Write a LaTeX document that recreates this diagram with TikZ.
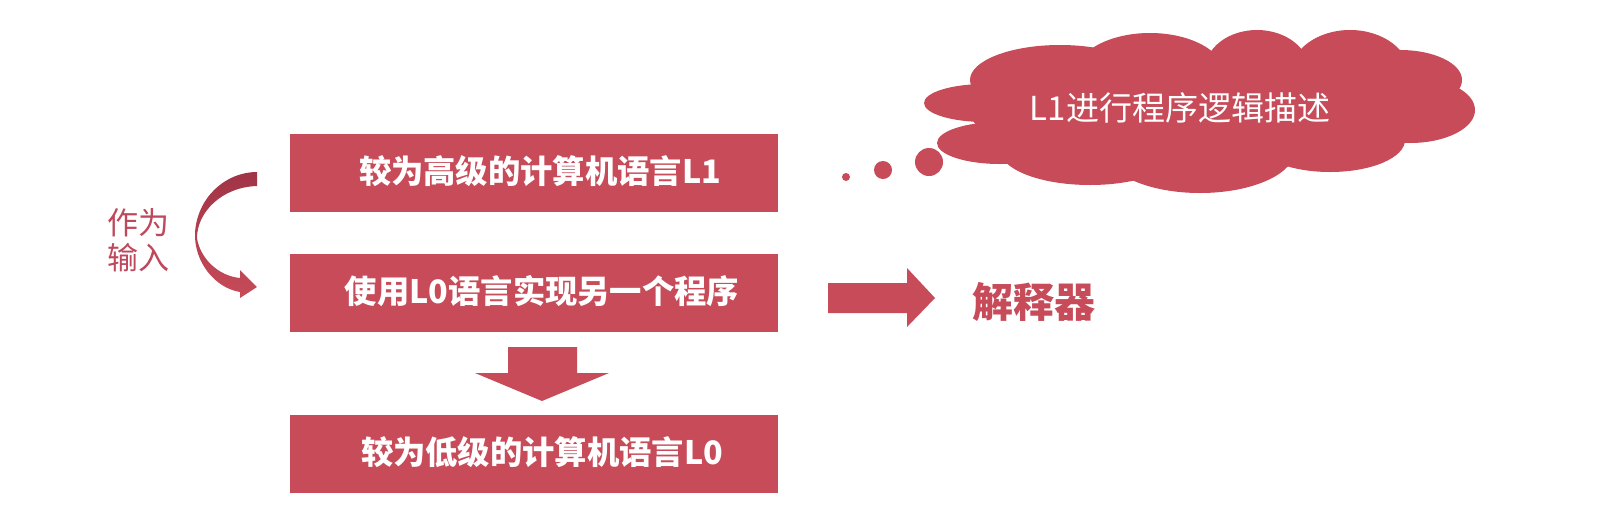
\documentclass[tikz,border=0pt]{standalone}
\usepackage{fontspec}
\newfontfamily\cjk{Noto Sans CJK SC}
\definecolor{rose}{RGB}{199,75,89}
\definecolor{rosedark}{RGB}{160,52,70}
\definecolor{rosetext}{RGB}{190,72,92}
\begin{document}
\begin{tikzpicture}[x=1pt,y=-1pt,
  box/.style={fill=rose, minimum width=488pt, minimum height=78pt, inner sep=0pt},
  boxtext/.style={text=white, inner sep=0pt, font=\cjk\bfseries\fontsize{32.3}{32.3}\selectfont},
  blob/.style={fill=rose},
  label/.style={text=rose, font=\cjk\bfseries\fontsize{41}{41}\selectfont},
  side/.style={text=rosetext, align=center, font=\cjk\fontsize{31}{35}\selectfont},
  cloudtext/.style={text=white, font=\cjk\fontsize{33}{33}\selectfont}]
\useasboundingbox (0,0) rectangle (1602,512);
\fill[white] (0,0) rectangle (1602,512);
% boxes
\node[box] (b1) at (534,173) {};
\node[box] (b2) at (534,293) {};
\node[box] (b3) at (534,454) {};
\node[boxtext] (t1) at ([xshift=6,yshift=2]b1.center) {较为高级的计算机语言L1};
\node[boxtext] (t2) at ([xshift=8,yshift=2]b2.center) {使用L0语言实现另一个程序};
\node[boxtext] (t3) at ([xshift=8,yshift=2]b3.center) {较为低级的计算机语言L0};
% down block arrow
\fill[rose] (508,347) -- (577,347) -- (577,373) -- (609,373) -- (542,401) -- (475,373) -- (508,373) -- cycle;
% right block arrow
\fill[rose] (828,283) -- (907,283) -- (907,268) -- (935,298) -- (907,327) -- (907,313) -- (828,313) -- cycle;
\node[label] (interp) at (1034,302) {解释器};
% side text
\node[side] (inp) at (138,240) {作为\\输入};
% curved arrow
\shade[top color=rosedark, bottom color=rose]
  (257,172) .. controls (225,172) and (197,198) .. (195,233)
  .. controls (194,262) and (215,288) .. (240,292)
  -- (240,298) -- (257,287) -- (240,270) -- (240,278)
  .. controls (218,276) and (200,258) .. (197,238)
  .. controls (197,212) and (222,187) .. (257,186) -- cycle;
% cloud
\fill[blob] (1200,112) ellipse [x radius=230, y radius=55];
\fill[blob] (985,103) ellipse [x radius=61, y radius=19];
\fill[blob] (1000,143) ellipse [x radius=63, y radius=21];
\fill[blob] (1060,80) ellipse [x radius=90, y radius=35];
\fill[blob] (1150,75) ellipse [x radius=75, y radius=42];
\fill[blob] (1257,70) ellipse [x radius=52, y radius=40];
\fill[blob] (1350,75) ellipse [x radius=60, y radius=45];
\fill[blob] (1400,80) ellipse [x radius=62, y radius=30];
\fill[blob] (1410,110) ellipse [x radius=65, y radius=33];
\fill[blob] (1330,140) ellipse [x radius=75, y radius=32];
\fill[blob] (1200,150) ellipse [x radius=95, y radius=43];
\fill[blob] (1090,150) ellipse [x radius=90, y radius=35];
\node[cloudtext] (ct) at (1180,108) {L1进行程序逻辑描述};
% thought dots
\fill[blob] (846,177) circle [radius=4];
\fill[blob] (883,170) circle [radius=9];
\fill[blob] (929,162) circle [radius=14];
\end{tikzpicture}
\end{document}
